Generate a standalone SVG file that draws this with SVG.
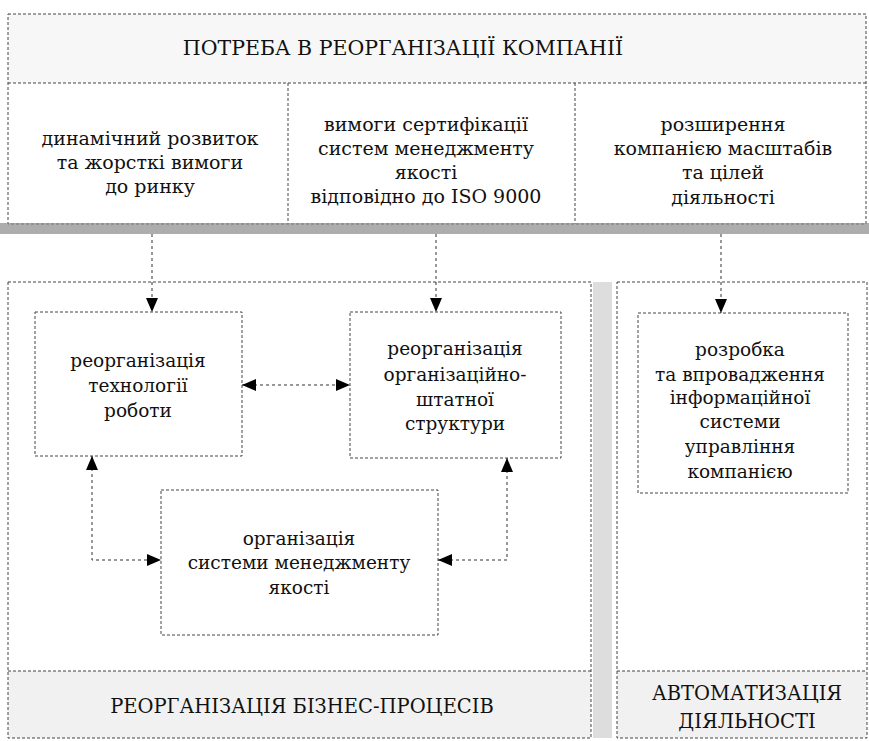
<svg xmlns="http://www.w3.org/2000/svg" width="869" height="741" viewBox="0 0 869 741">
<defs>
<marker id="arr" viewBox="0 0 14 12" refX="14" refY="6" markerWidth="14" markerHeight="12" markerUnits="userSpaceOnUse" orient="auto-start-reverse">
<path d="M0,0 L14,6 L0,12 Z" fill="#000"/>
</marker>
</defs>
<style>
.box{fill:none;stroke:#444;stroke-width:1;stroke-dasharray:3 2}
.band{fill:#f1f1f1;stroke:none}
.t,.ttl,.ct,.cap{font-family:'DejaVu Serif','Liberation Serif',serif;fill:#111;text-anchor:middle}
.t{font-size:18.5px}
.ttl{font-size:20.5px}
.ct{font-size:19px}
.cap{font-size:19.5px}
.c{fill:none;stroke:#333;stroke-width:1;stroke-dasharray:3 3}
</style>
<rect width="869" height="741" fill="#fff"/>
<g id="need">
<rect x="8" y="14" width="858" height="69" class="band" fill-opacity="0.6"/>
<rect x="8" y="14" width="858" height="210" class="box"/>
<line x1="8" y1="83" x2="866" y2="83" class="box"/>
<line x1="288" y1="83" x2="288" y2="224" class="box"/>
<line x1="575" y1="83" x2="575" y2="224" class="box"/>
<rect x="0" y="223" width="869" height="11" fill="#8a8a8a" opacity="0.7"/>
<text x="403" y="55" class="ttl">ПОТРЕБА В РЕОРГАНІЗАЦІЇ КОМПАНІЇ</text>
</g>
<g id="need1">
<text class="ct"><tspan x="150" y="145">динамічний розвиток</tspan><tspan x="150" y="169">та жорсткі вимоги</tspan><tspan x="150" y="193">до ринку</tspan></text>
</g>
<g id="need2">
<text class="ct"><tspan x="426" y="131">вимоги сертифікації</tspan><tspan x="426" y="155">систем менеджменту</tspan><tspan x="426" y="179">якості</tspan><tspan x="426" y="203">відповідно до ISO 9000</tspan></text>
</g>
<g id="need3">
<text class="ct"><tspan x="723" y="131">розширення</tspan><tspan x="723" y="155">компанією масштабів</tspan><tspan x="723" y="179">та цілей</tspan><tspan x="723" y="204">діяльності</tspan></text>
</g>
<g id="bp">
<rect x="8" y="671" width="583" height="67" class="band"/>
<rect x="8" y="282" width="583" height="456" class="box"/>
<line x1="8" y1="671" x2="591" y2="671" class="box"/>
<text x="302" y="713" class="cap">РЕОРГАНІЗАЦІЯ БІЗНЕС-ПРОЦЕСІВ</text>
</g>
<rect x="593" y="282" width="19" height="456" fill="#cfcfcf" opacity="0.7"/>
<g id="auto">
<rect x="617" y="671" width="250" height="67" class="band"/>
<rect x="617" y="282" width="250" height="456" class="box"/>
<line x1="617" y1="671" x2="867" y2="671" class="box"/>
<text class="cap"><tspan x="747" y="700">АВТОМАТИЗАЦІЯ</tspan><tspan x="747" y="728">ДІЯЛЬНОСТІ</tspan></text>
</g>
<g id="tech">
<rect x="35" y="312" width="207" height="144" class="box"/>
<text class="t"><tspan x="138" y="367">реорганізація</tspan><tspan x="138" y="392">технології</tspan><tspan x="138" y="417">роботи</tspan></text>
</g>
<g id="struct">
<rect x="350" y="312" width="211" height="146" class="box"/>
<text class="t"><tspan x="455" y="355">реорганізація</tspan><tspan x="455" y="381">організаційно-</tspan><tspan x="455" y="406">штатної</tspan><tspan x="455" y="430">структури</tspan></text>
</g>
<g id="qms">
<rect x="161" y="490" width="277" height="145" class="box"/>
<text class="t"><tspan x="299" y="545">організація</tspan><tspan x="299" y="569">системи менеджменту</tspan><tspan x="299" y="594">якості</tspan></text>
</g>
<g id="is">
<rect x="638" y="313" width="210" height="180" class="box"/>
<text class="t"><tspan x="740" y="356">розробка</tspan><tspan x="740" y="381">та впровадження</tspan><tspan x="740" y="404">інформаційної</tspan><tspan x="740" y="428">системи</tspan><tspan x="740" y="453">управління</tspan><tspan x="740" y="478">компанією</tspan></text>
</g>
<g id="connectors">
<line x1="152" y1="234" x2="152" y2="312" class="c" marker-end="url(#arr)"/>
<line x1="436" y1="234" x2="436" y2="312" class="c" marker-end="url(#arr)"/>
<line x1="721" y1="234" x2="721" y2="313" class="c" marker-end="url(#arr)"/>
<line x1="242" y1="385" x2="350" y2="385" class="c" marker-start="url(#arr)" marker-end="url(#arr)"/>
<polyline points="92,456 92,560 161,560" class="c" marker-start="url(#arr)" marker-end="url(#arr)"/>
<polyline points="507,458 507,560 438,560" class="c" marker-start="url(#arr)" marker-end="url(#arr)"/>
</g>
</svg>
